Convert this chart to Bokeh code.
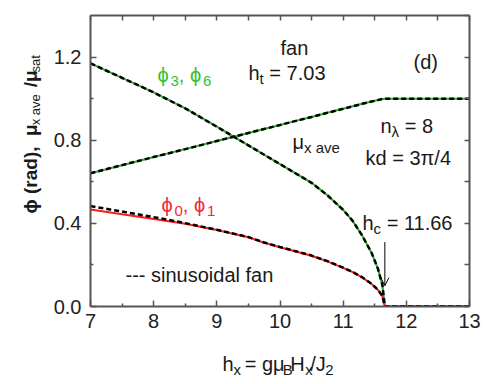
import math
from bokeh.plotting import figure
from bokeh.models import (LinearAxis, FixedTicker, PrintfTickFormatter, Label,
                          Arrow, OpenHead, Range1d, ColumnDataSource)
from bokeh.embed import file_html
from bokeh.resources import INLINE

# ---------------- data ----------------
H = [7.0, 7.5, 8.0, 8.5, 9.0, 9.5, 9.75, 10.0, 10.25, 10.5, 10.75, 11.0, 11.15, 11.3, 11.45, 11.55,
     11.62, 11.66, 12.0, 12.5, 13.0]
PHI36 = [1.170, 1.100, 1.030, 0.953, 0.865, 0.775, 0.730, 0.685, 0.640, 0.595, 0.535, 0.465, 0.412,
         0.342, 0.258, 0.182, 0.105, 0.0, 0.0, 0.0, 0.0]
PHI01 = [0.467, 0.444, 0.421, 0.398, 0.368, 0.333, 0.307, 0.285, 0.265, 0.244, 0.217, 0.186, 0.165,
         0.140, 0.108, 0.080, 0.050, 0.0, 0.0, 0.0, 0.0]
PHI01_SIN = [0.483, 0.457, 0.430, 0.401, 0.369, 0.334, 0.308, 0.286, 0.266, 0.245, 0.218, 0.187,
             0.166, 0.141, 0.109, 0.081, 0.051, 0.0, 0.0, 0.0, 0.0]
MU = [0.641, 0.680, 0.719, 0.757, 0.796, 0.835, 0.854, 0.873, 0.893, 0.912, 0.932, 0.951, 0.963,
      0.975, 0.986, 0.993, 0.998, 1.0, 1.0, 1.0, 1.0]
HC = 11.66
ARROW_TOP = 0.31
ARROW_TIP = 0.10

X_TICKS = [7, 8, 9, 10, 11, 12, 13]
X_MINOR = [7.5, 8.5, 9.5, 10.5, 11.5, 12.5]
Y_TICKS = [0.0, 0.4, 0.8, 1.2]
Y_MINOR = [0.2, 0.6, 1.0]

GREEN = "#2aa92a"
GREEN_TXT = "#33c033"
RED = "#ff1a1a"
RED_TXT = "#f0283c"
AXC = "#555555"
FONT = "Liberation Sans"
NB = "\u00a0"

W, Hh = 485, 384
ML, MR, MT, MB = 90, 16, 15, 78
X0, X1, Y0, Y1 = 7.0, 13.0, 0.0, 1.4

p = figure(width=W, height=Hh, output_backend="svg", toolbar_location=None,
           x_range=Range1d(X0, X1), y_range=Range1d(Y0, Y1),
           min_border_left=ML, min_border_right=MR, min_border_top=MT, min_border_bottom=MB,
           x_axis_location=None, y_axis_location=None)
p.grid.visible = False
p.outline_line_color = None
p.background_fill_color = "white"
p.border_fill_color = "white"

def style_axis(ax, ticks, minor, fmt=None):
    ax.ticker = FixedTicker(ticks=ticks, minor_ticks=minor)
    ax.axis_line_color = AXC
    ax.axis_line_width = 2
    ax.major_tick_line_color = AXC
    ax.major_tick_line_width = 1.5
    ax.minor_tick_line_color = AXC
    ax.minor_tick_line_width = 1.5
    ax.major_tick_in = 6
    ax.major_tick_out = 0
    ax.minor_tick_in = 3
    ax.minor_tick_out = 0
    ax.major_label_text_font = FONT
    ax.major_label_text_color = "#222222"
    ax.major_label_text_font_size = "20px"
    if fmt:
        ax.formatter = fmt

xb = LinearAxis(); style_axis(xb, X_TICKS, X_MINOR); xb.major_label_standoff = 7
yl = LinearAxis(); style_axis(yl, Y_TICKS, Y_MINOR, PrintfTickFormatter(format="%.1f")); yl.major_label_standoff = 9
xt = LinearAxis(); style_axis(xt, [], sorted(X_TICKS + X_MINOR)); xt.minor_tick_in = 5
yr = LinearAxis(); style_axis(yr, [], sorted(Y_TICKS + Y_MINOR + [1.4])); yr.minor_tick_in = 5
p.add_layout(xb, "below")
p.add_layout(yl, "left")
p.add_layout(xt, "above")
p.add_layout(yr, "right")

src = ColumnDataSource(dict(h=H, phi36=PHI36, phi01=PHI01, sin01=PHI01_SIN, mu=MU))

p.line("h", "mu", source=src, line_color=GREEN, line_width=2)
p.line("h", "phi36", source=src, line_color=GREEN, line_width=2)
p.line("h", "phi01", source=src, line_color=RED, line_width=2)
for col in ["mu", "phi36", "sin01"]:
    p.line("h", col, source=src, line_color="black", line_width=2.5, line_dash="5 3")

p.add_layout(Arrow(x_start=HC, y_start=ARROW_TOP, x_end=HC, y_end=ARROW_TIP,
                   line_color="black", line_width=1,
                   end=OpenHead(size=8, line_width=1, line_color="black")))

# ---------------- text helpers ----------------
AW = {' ': 278, NB: 278, 'a': 556, 'b': 556, 'c': 500, 'd': 556, 'e': 556, 'f': 278, 'g': 556,
      'h': 556, 'i': 222, 'k': 500, 'l': 222, 'n': 556, 'o': 556, 'r': 333, 's': 500, 't': 278,
      'u': 556, 'v': 500, 'x': 500, '.': 278, ',': 278, '=': 584, '/': 278, '(': 333, ')': 333,
      '-': 333, 'B': 667, 'H': 722, 'J': 500, 'μ': 576, 'ϕ': 650, 'λ': 500, 'π': 580}
for dgt in "0123456789":
    AW[dgt] = 556
AWB = dict(AW); AWB.update({'r': 389, 'd': 611, 'ϕ': 700, 'μ': 611})

def tw(s, size, bold=False):
    tab = AWB if bold else AW
    return sum(tab.get(c, 556) for c in s) / 1000.0 * size

def dxp(px):
    return X0 + (px - ML) / (W - ML - MR) * (X1 - X0)

def dyp(py):
    return Y1 - (py - MT) / (Hh - MT - MB) * (Y1 - Y0)

def put(x, y, text, size, color, bold=False, rotate=False, place=None):
    lab = Label(x=dxp(x), y=dyp(y), text=text, text_font=FONT,
                text_font_size=f"{size}px", text_color=color,
                text_font_style="bold" if bold else "normal",
                text_align="left", text_baseline="alphabetic",
                angle=90 if rotate else 0, angle_units="deg")
    if place:
        p.add_layout(lab, place)
    else:
        p.add_layout(lab)

def rich(px, py, pieces, color="#1a1a1a", size=20, sub=15, drop=6):
    """inside the frame: one Label per piece, exact placement"""
    pos = 0.0
    for txt, is_sub in pieces:
        fs = sub if is_sub else size
        off = drop if is_sub else 0
        lead = len(txt) - len(txt.lstrip(" "))
        pos += tw(" " * lead, fs)
        core = txt.strip(" ")
        put(px + pos, py + off, core, fs, color)
        pos += tw(txt.lstrip(" "), fs)

def rich2(px, py, pieces, color="#1a1a1a", size=20, sub=15, drop=6, bold=False,
          rotate=False, place=None):
    """outside the frame: one Label for the main row, one for the subscript row"""
    rows = {0: {"s": "", "start": None, "end": 0.0, "fs": size, "b": bold},
            1: {"s": "", "start": None, "end": 0.0, "fs": sub, "b": False}}
    pos = 0.0
    for txt, is_sub in pieces:
        r = rows[1 if is_sub else 0]
        t = txt.replace(" ", NB)
        if r["start"] is None:
            lead = len(t) - len(t.lstrip(NB))
            t = t.lstrip(NB)
            pos += tw(NB * lead, r["fs"], r["b"])
            r["start"] = pos
            r["end"] = pos
        else:
            nbw = tw(NB, r["fs"], r["b"])
            n = max(0, int(round((pos - r["end"]) / nbw)))
            r["s"] += NB * n
            r["end"] += n * nbw
        r["s"] += t
        r["end"] += tw(t, r["fs"], r["b"])
        pos = r["end"]
    for k, r in rows.items():
        if not r["s"]:
            continue
        off = drop if k == 1 else 0
        if rotate:
            put(px + off, py - r["start"], r["s"], r["fs"], color, r["b"], True, place)
        else:
            put(px + r["start"], py + off, r["s"], r["fs"], color, r["b"], False, place)

rich(280, 47, [("fan", 0)])
rich(248, 72, [("h", 0), ("t", 1), (" = 7.03", 0)])
rich(413, 61, [("(d)", 0)])
rich(380, 125, [("n", 0), ("λ", 1), (" = 8", 0)])
rich(365, 157, [("kd = 3π/4", 0)])
rich(292, 141, [("μ", 0), ("x ave", 1)])
rich(157, 74, [("ϕ", 0), ("3", 1), (", ", 0), ("ϕ", 0), ("6", 1)], color=GREEN_TXT)
rich(161, 204, [("ϕ", 0), ("0", 1), (", ", 0), ("ϕ", 0), ("1", 1)], color=RED_TXT)
rich(125, 274, [("--- sinusoidal fan", 0)])
rich(362, 222, [("h", 0), ("c", 1), (" = 11.66", 0)])

# axis titles (side panels, two Labels each)
rich2(222, 363, [("h", 0), ("x", 1), (" = gμ", 0), ("B", 1), ("H", 0), ("x", 1), ("/J", 0), ("2", 1)],
      place="below")
rich2(30, 213, [("ϕ (rad),  μ", 0), ("x ave", 1), (" /μ", 0), ("sat", 1)],
      size=19, sub=13, drop=5, bold=True, rotate=True, place="left")

open("out.html", "w").write(file_html(p, INLINE))
